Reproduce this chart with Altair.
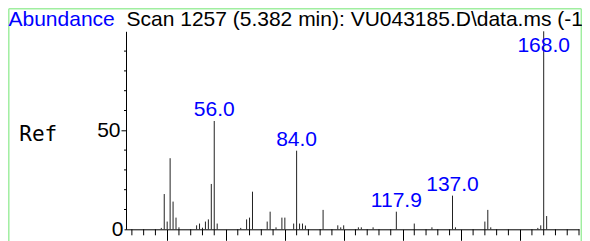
import altair as alt
import pandas as pd

# Peak list (m/z, relative abundance)
mz = [38, 39, 40, 41, 42, 43, 44, 50, 51, 52, 53, 54, 55, 56, 57,
      65, 67, 68, 69, 74, 75, 77, 79, 80, 83, 84, 85, 86, 87, 93,
      98, 99, 100, 105, 106, 110, 117.9, 124, 130, 137, 138,
      148, 149, 150, 166, 167, 168, 169]
abundance = [0.7, 17.8, 3.9, 35.9, 14.0, 5.9, 1.0, 2.0, 2.9, 0.8, 3.9, 5.0, 22.9, 54.7, 2.9,
             0.7, 5.0, 5.9, 19.0, 3.9, 8.9, 1.0, 5.9, 5.9, 2.9, 39.7, 2.9, 2.9, 1.9, 9.8,
             2.0, 1.0, 2.0, 1.0, 1.0, 1.0, 8.9, 2.9, 1.0, 17.0, 1.0,
             3.9, 9.8, 1.0, 0.7, 2.0, 100.0, 6.7]

label_mz = [56.0, 84.0, 117.9, 137.0, 168.0]

x_major_ticks = [40, 60, 80, 100, 120, 140, 160]
x_minor_ticks = [28, 32, 36, 44, 48, 52, 56, 64, 68, 72, 76, 84, 88, 92, 96,
                 104, 108, 112, 116, 124, 128, 132, 136, 144, 148, 152, 156,
                 164, 168, 172, 176, 180]
y_labels = [0, 50]
y_minor_ticks = [10, 20, 30, 40, 60, 70, 80, 90]

title_text = "Scan 1257 (5.382 min): VU043185.D\\data.ms (-1"
y_title = "Abundance"
side_label = "Ref"

W, H = 453, 198
FONT = "Liberation Sans"
BLUE = "#0000ff"
GREEN = "#a0eea0"

xs = alt.Scale(domain=[26, 180], nice=False, zero=False)
ys = alt.Scale(domain=[0, 100], nice=False)

x_axis = alt.Axis(values=x_major_ticks, labels=False, tickSize=11, grid=False, title=None,
                  domainColor="black", tickColor="black", domainWidth=1, tickWidth=1)
y_axis = alt.Axis(values=y_labels, grid=False, labelFont=FONT, title=None,
                  tickSize={"condition": {"test": "datum.value === 0", "value": 2}, "value": 5},
                  labelFontSize=21, labelColor="black", labelPadding=1,
                  domainColor="black", tickColor="black", domainWidth=1, tickWidth=1)

peaks = pd.DataFrame({"mz": mz, "ab": abundance})
ab_lookup = dict(zip(mz, abundance))
labels = pd.DataFrame({
    "mz": label_mz,
    "ly": [min(ab_lookup[m] + 2.5, 89.7) for m in label_mz],
    "txt": [f"{m:.1f}" for m in label_mz],
})

bars = alt.Chart(peaks).mark_rule(color="#222222", strokeWidth=1).encode(
    x=alt.X("mz:Q", scale=xs, axis=x_axis),
    y=alt.Y("ab:Q", scale=ys, axis=y_axis),
    y2=alt.datum(0),
)

xminor = alt.Chart(pd.DataFrame({"mz": x_minor_ticks})).mark_rule(color="black", strokeWidth=1).encode(
    x=alt.X("mz:Q", scale=xs, axis=x_axis),
    y=alt.value(H), y2=alt.value(H + 6),
)
yminor = alt.Chart(pd.DataFrame({"ab": y_minor_ticks})).mark_rule(color="black", strokeWidth=1).encode(
    y=alt.Y("ab:Q", scale=ys, axis=y_axis),
    x=alt.value(0), x2=alt.value(-2),
)

peak_labels = alt.Chart(labels).mark_text(
    font=FONT, fontSize=21, color=BLUE, align="center", baseline="alphabetic"
).encode(
    x=alt.X("mz:Q", scale=xs, axis=x_axis),
    y=alt.Y("ly:Q", scale=ys, axis=y_axis),
    text="txt:N",
)

one = pd.DataFrame({"a": [y_title], "b": [title_text], "c": [side_label]})
abund_txt = alt.Chart(one).mark_text(font=FONT, fontSize=21, color=BLUE, align="left",
                                     baseline="alphabetic").encode(
    text="a:N", x=alt.value(-117.5), y=alt.value(-5.8))
title_txt = alt.Chart(one).mark_text(font=FONT, fontSize=21, color="black", align="left",
                                     baseline="alphabetic").encode(
    text="b:N", x=alt.value(0.5), y=alt.value(-5.3))
ref_txt = alt.Chart(one).mark_text(font="DejaVu Sans Mono", fontSize=21, color="black",
                                   align="left", baseline="alphabetic").encode(
    text="c:N", x=alt.value(-106.7), y=alt.value(109.4))

border_left = alt.Chart(one).mark_rule(color=GREEN, strokeWidth=1.5).encode(
    x=alt.value(-117.2), y=alt.value(-22.5), y2=alt.value(H + 30))
border_top = alt.Chart(one).mark_rule(color=GREEN, strokeWidth=1.5).encode(
    x=alt.value(-117.2), x2=alt.value(455.3), y=alt.value(-22.5))
border_right = alt.Chart(one).mark_rule(color=GREEN, strokeWidth=1.5).encode(
    x=alt.value(455.3), y=alt.value(-22.5), y2=alt.value(H + 30))

chart = alt.layer(
    border_left, border_top, border_right,
    bars, xminor, yminor, peak_labels, abund_txt, title_txt, ref_txt,
).properties(
    width=W, height=H,
    autosize=alt.AutoSizeParams(type="none"),
    padding={"left": 118, "top": 23.3, "right": 3, "bottom": 11.7},
).configure_view(stroke=None)

chart.save("out.html", embed_options={"renderer": "svg", "actions": False})
